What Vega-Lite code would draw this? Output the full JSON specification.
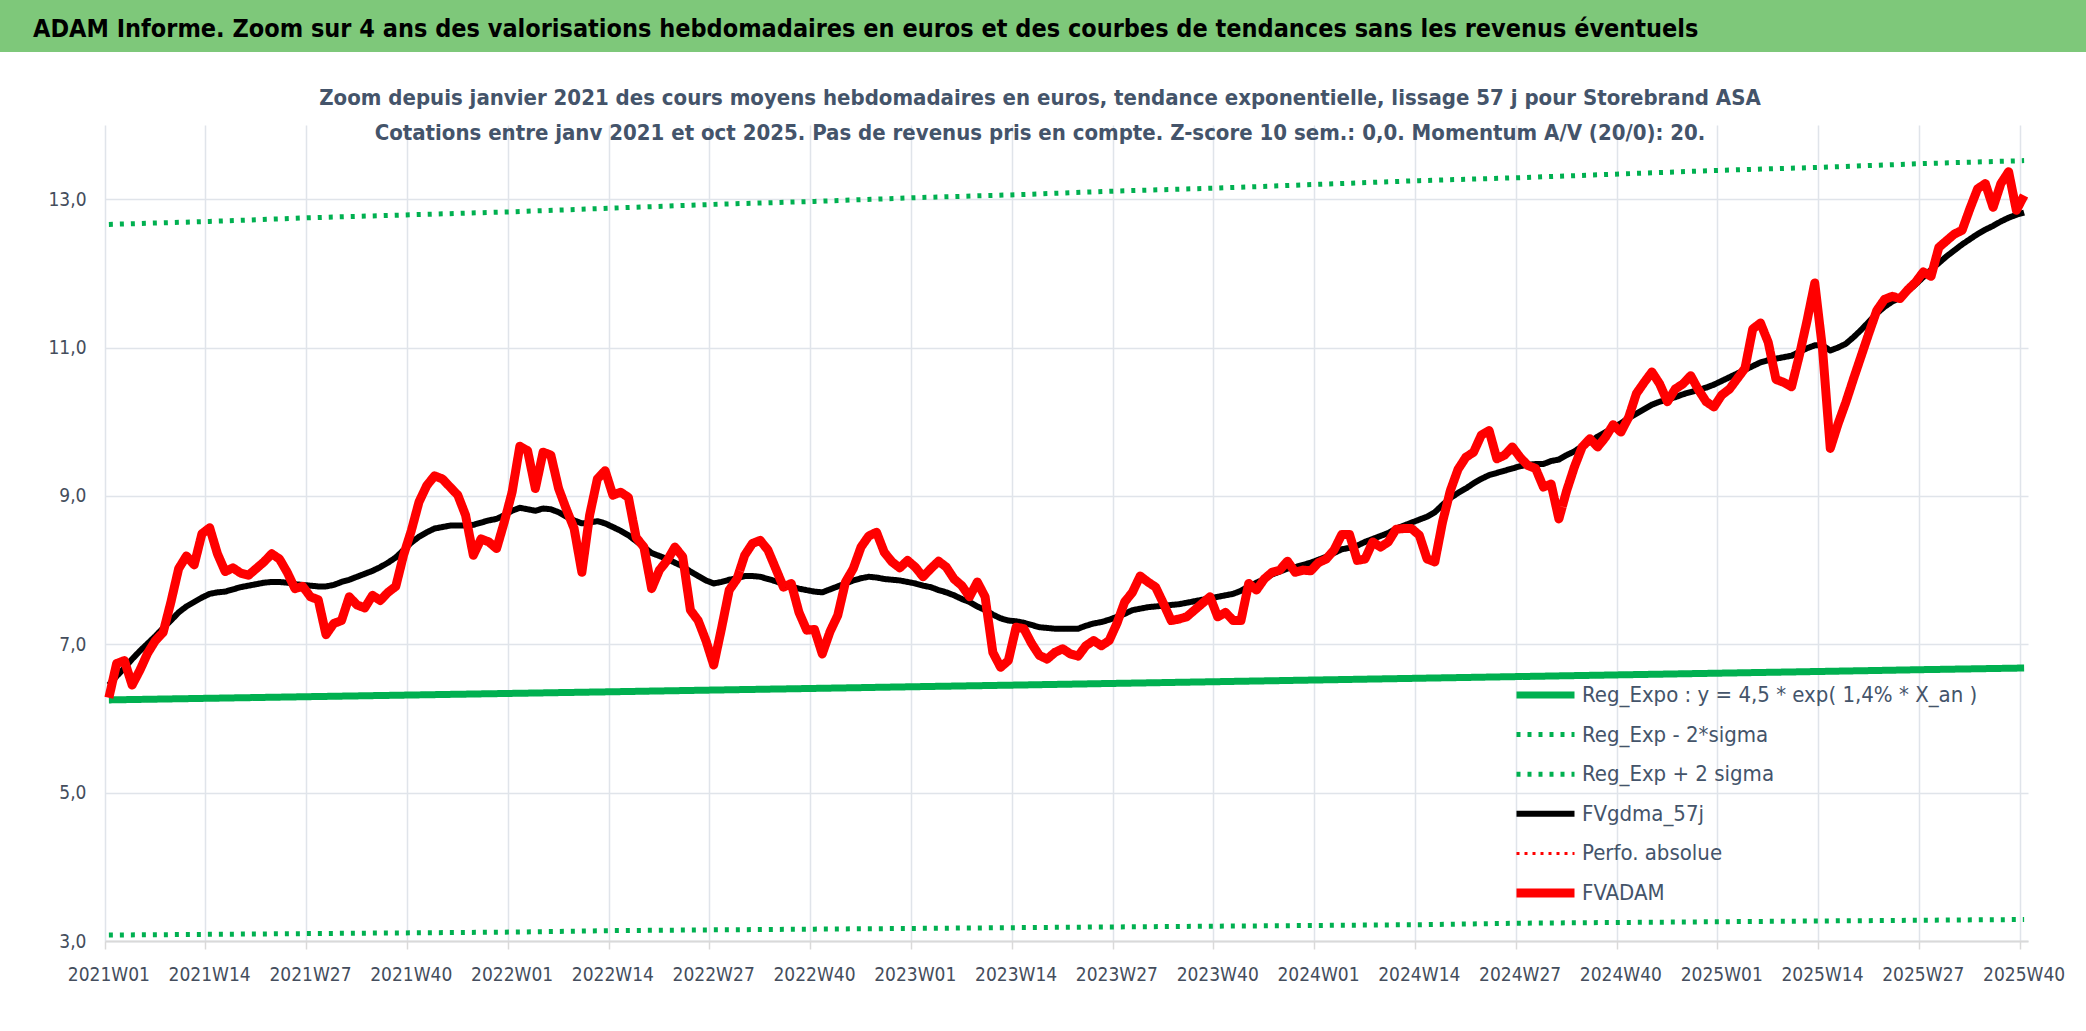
{
  "$schema": "https://vega.github.io/schema/vega-lite/v6.json",
  "background": "white",
  "padding": {"left": 0, "top": 0, "right": 0, "bottom": 47},
  "spacing": 34,
  "columns": 1,
  "config": {
    "font": "Liberation Sans Narrow, DejaVu Sans Condensed, Liberation Sans",
    "view": {"stroke": null}
  },
  "datasets": {
    "weekly": [
      {"w":"2021W01","FVADAM":6.28,"FVgdma_57j":6.45},{"w":"2021W02","FVADAM":6.74,"FVgdma_57j":6.57},{"w":"2021W03","FVADAM":6.78,"FVgdma_57j":6.68},{"w":"2021W04","FVADAM":6.45,"FVgdma_57j":6.80},
      {"w":"2021W05","FVADAM":6.65,"FVgdma_57j":6.91},{"w":"2021W06","FVADAM":6.88,"FVgdma_57j":7.01},{"w":"2021W07","FVADAM":7.05,"FVgdma_57j":7.11},{"w":"2021W08","FVADAM":7.16,"FVgdma_57j":7.22},
      {"w":"2021W09","FVADAM":7.57,"FVgdma_57j":7.32},{"w":"2021W10","FVADAM":8.02,"FVgdma_57j":7.43},{"w":"2021W11","FVADAM":8.19,"FVgdma_57j":7.51},{"w":"2021W12","FVADAM":8.07,"FVgdma_57j":7.57},
      {"w":"2021W13","FVADAM":8.49,"FVgdma_57j":7.63},{"w":"2021W14","FVADAM":8.57,"FVgdma_57j":7.68},{"w":"2021W15","FVADAM":8.22,"FVgdma_57j":7.70},{"w":"2021W16","FVADAM":7.98,"FVgdma_57j":7.71},
      {"w":"2021W17","FVADAM":8.03,"FVgdma_57j":7.74},{"w":"2021W18","FVADAM":7.96,"FVgdma_57j":7.77},{"w":"2021W19","FVADAM":7.93,"FVgdma_57j":7.79},{"w":"2021W20","FVADAM":8.02,"FVgdma_57j":7.81},
      {"w":"2021W21","FVADAM":8.11,"FVgdma_57j":7.83},{"w":"2021W22","FVADAM":8.22,"FVgdma_57j":7.84},{"w":"2021W23","FVADAM":8.15,"FVgdma_57j":7.84},{"w":"2021W24","FVADAM":7.97,"FVgdma_57j":7.83},
      {"w":"2021W25","FVADAM":7.75,"FVgdma_57j":7.81},{"w":"2021W26","FVADAM":7.78,"FVgdma_57j":7.80},{"w":"2021W27","FVADAM":7.64,"FVgdma_57j":7.79},{"w":"2021W28","FVADAM":7.60,"FVgdma_57j":7.78},
      {"w":"2021W29","FVADAM":7.13,"FVgdma_57j":7.78},{"w":"2021W30","FVADAM":7.28,"FVgdma_57j":7.80},{"w":"2021W31","FVADAM":7.32,"FVgdma_57j":7.84},{"w":"2021W32","FVADAM":7.64,"FVgdma_57j":7.87},
      {"w":"2021W33","FVADAM":7.53,"FVgdma_57j":7.91},{"w":"2021W34","FVADAM":7.49,"FVgdma_57j":7.95},{"w":"2021W35","FVADAM":7.66,"FVgdma_57j":7.99},{"w":"2021W36","FVADAM":7.59,"FVgdma_57j":8.04},
      {"w":"2021W37","FVADAM":7.70,"FVgdma_57j":8.10},{"w":"2021W38","FVADAM":7.78,"FVgdma_57j":8.17},{"w":"2021W39","FVADAM":8.20,"FVgdma_57j":8.27},{"w":"2021W40","FVADAM":8.53,"FVgdma_57j":8.37},
      {"w":"2021W41","FVADAM":8.92,"FVgdma_57j":8.45},{"w":"2021W42","FVADAM":9.14,"FVgdma_57j":8.51},{"w":"2021W43","FVADAM":9.27,"FVgdma_57j":8.56},{"w":"2021W44","FVADAM":9.23,"FVgdma_57j":8.58},
      {"w":"2021W45","FVADAM":9.12,"FVgdma_57j":8.60},{"w":"2021W46","FVADAM":9.01,"FVgdma_57j":8.60},{"w":"2021W47","FVADAM":8.74,"FVgdma_57j":8.60},{"w":"2021W48","FVADAM":8.20,"FVgdma_57j":8.61},
      {"w":"2021W49","FVADAM":8.42,"FVgdma_57j":8.64},{"w":"2021W50","FVADAM":8.38,"FVgdma_57j":8.67},{"w":"2021W51","FVADAM":8.29,"FVgdma_57j":8.69},{"w":"2021W52","FVADAM":8.65,"FVgdma_57j":8.74},
      {"w":"2022W01","FVADAM":9.05,"FVgdma_57j":8.80},{"w":"2022W02","FVADAM":9.67,"FVgdma_57j":8.84},{"w":"2022W03","FVADAM":9.61,"FVgdma_57j":8.82},{"w":"2022W04","FVADAM":9.10,"FVgdma_57j":8.80},
      {"w":"2022W05","FVADAM":9.59,"FVgdma_57j":8.83},{"w":"2022W06","FVADAM":9.55,"FVgdma_57j":8.82},{"w":"2022W07","FVADAM":9.10,"FVgdma_57j":8.78},{"w":"2022W08","FVADAM":8.82,"FVgdma_57j":8.72},
      {"w":"2022W09","FVADAM":8.56,"FVgdma_57j":8.67},{"w":"2022W10","FVADAM":7.97,"FVgdma_57j":8.63},{"w":"2022W11","FVADAM":8.74,"FVgdma_57j":8.64},{"w":"2022W12","FVADAM":9.23,"FVgdma_57j":8.66},
      {"w":"2022W13","FVADAM":9.34,"FVgdma_57j":8.63},{"w":"2022W14","FVADAM":9.01,"FVgdma_57j":8.58},{"w":"2022W15","FVADAM":9.05,"FVgdma_57j":8.53},{"w":"2022W16","FVADAM":8.98,"FVgdma_57j":8.47},
      {"w":"2022W17","FVADAM":8.44,"FVgdma_57j":8.39},{"w":"2022W18","FVADAM":8.31,"FVgdma_57j":8.31},{"w":"2022W19","FVADAM":7.75,"FVgdma_57j":8.23},{"w":"2022W20","FVADAM":8.00,"FVgdma_57j":8.19},
      {"w":"2022W21","FVADAM":8.13,"FVgdma_57j":8.15},{"w":"2022W22","FVADAM":8.31,"FVgdma_57j":8.10},{"w":"2022W23","FVADAM":8.18,"FVgdma_57j":8.05},{"w":"2022W24","FVADAM":7.46,"FVgdma_57j":7.98},
      {"w":"2022W25","FVADAM":7.32,"FVgdma_57j":7.92},{"w":"2022W26","FVADAM":7.05,"FVgdma_57j":7.86},{"w":"2022W27","FVADAM":6.72,"FVgdma_57j":7.82},{"w":"2022W28","FVADAM":7.21,"FVgdma_57j":7.84},
      {"w":"2022W29","FVADAM":7.73,"FVgdma_57j":7.87},{"w":"2022W30","FVADAM":7.88,"FVgdma_57j":7.89},{"w":"2022W31","FVADAM":8.20,"FVgdma_57j":7.92},{"w":"2022W32","FVADAM":8.36,"FVgdma_57j":7.92},
      {"w":"2022W33","FVADAM":8.40,"FVgdma_57j":7.91},{"w":"2022W34","FVADAM":8.27,"FVgdma_57j":7.88},{"w":"2022W35","FVADAM":8.02,"FVgdma_57j":7.85},{"w":"2022W36","FVADAM":7.77,"FVgdma_57j":7.81},
      {"w":"2022W37","FVADAM":7.82,"FVgdma_57j":7.78},{"w":"2022W38","FVADAM":7.43,"FVgdma_57j":7.75},{"w":"2022W39","FVADAM":7.19,"FVgdma_57j":7.73},{"w":"2022W40","FVADAM":7.20,"FVgdma_57j":7.71},
      {"w":"2022W41","FVADAM":6.87,"FVgdma_57j":7.70},{"w":"2022W42","FVADAM":7.17,"FVgdma_57j":7.74},{"w":"2022W43","FVADAM":7.39,"FVgdma_57j":7.78},{"w":"2022W44","FVADAM":7.84,"FVgdma_57j":7.82},
      {"w":"2022W45","FVADAM":8.02,"FVgdma_57j":7.86},{"w":"2022W46","FVADAM":8.31,"FVgdma_57j":7.89},{"w":"2022W47","FVADAM":8.46,"FVgdma_57j":7.91},{"w":"2022W48","FVADAM":8.51,"FVgdma_57j":7.90},
      {"w":"2022W49","FVADAM":8.24,"FVgdma_57j":7.88},{"w":"2022W50","FVADAM":8.11,"FVgdma_57j":7.87},{"w":"2022W51","FVADAM":8.03,"FVgdma_57j":7.86},{"w":"2022W52","FVADAM":8.13,"FVgdma_57j":7.84},
      {"w":"2023W01","FVADAM":8.04,"FVgdma_57j":7.82},{"w":"2023W02","FVADAM":7.91,"FVgdma_57j":7.79},{"w":"2023W03","FVADAM":8.02,"FVgdma_57j":7.77},{"w":"2023W04","FVADAM":8.12,"FVgdma_57j":7.73},
      {"w":"2023W05","FVADAM":8.04,"FVgdma_57j":7.70},{"w":"2023W06","FVADAM":7.88,"FVgdma_57j":7.66},{"w":"2023W07","FVADAM":7.79,"FVgdma_57j":7.61},{"w":"2023W08","FVADAM":7.64,"FVgdma_57j":7.57},
      {"w":"2023W09","FVADAM":7.84,"FVgdma_57j":7.51},{"w":"2023W10","FVADAM":7.64,"FVgdma_57j":7.46},{"w":"2023W11","FVADAM":6.89,"FVgdma_57j":7.40},{"w":"2023W12","FVADAM":6.69,"FVgdma_57j":7.35},
      {"w":"2023W13","FVADAM":6.78,"FVgdma_57j":7.32},{"w":"2023W14","FVADAM":7.23,"FVgdma_57j":7.31},{"w":"2023W15","FVADAM":7.21,"FVgdma_57j":7.29},{"w":"2023W16","FVADAM":7.01,"FVgdma_57j":7.26},
      {"w":"2023W17","FVADAM":6.85,"FVgdma_57j":7.23},{"w":"2023W18","FVADAM":6.80,"FVgdma_57j":7.22},{"w":"2023W19","FVADAM":6.89,"FVgdma_57j":7.21},{"w":"2023W20","FVADAM":6.94,"FVgdma_57j":7.21},
      {"w":"2023W21","FVADAM":6.87,"FVgdma_57j":7.21},{"w":"2023W22","FVADAM":6.84,"FVgdma_57j":7.21},{"w":"2023W23","FVADAM":6.98,"FVgdma_57j":7.25},{"w":"2023W24","FVADAM":7.05,"FVgdma_57j":7.28},
      {"w":"2023W25","FVADAM":6.98,"FVgdma_57j":7.30},{"w":"2023W26","FVADAM":7.05,"FVgdma_57j":7.33},{"w":"2023W27","FVADAM":7.28,"FVgdma_57j":7.37},{"w":"2023W28","FVADAM":7.57,"FVgdma_57j":7.41},
      {"w":"2023W29","FVADAM":7.70,"FVgdma_57j":7.46},{"w":"2023W30","FVADAM":7.92,"FVgdma_57j":7.48},{"w":"2023W31","FVADAM":7.84,"FVgdma_57j":7.50},{"w":"2023W32","FVADAM":7.77,"FVgdma_57j":7.51},
      {"w":"2023W33","FVADAM":7.55,"FVgdma_57j":7.52},{"w":"2023W34","FVADAM":7.32,"FVgdma_57j":7.53},{"w":"2023W35","FVADAM":7.34,"FVgdma_57j":7.54},{"w":"2023W36","FVADAM":7.37,"FVgdma_57j":7.56},
      {"w":"2023W37","FVADAM":7.46,"FVgdma_57j":7.58},{"w":"2023W38","FVADAM":7.55,"FVgdma_57j":7.60},{"w":"2023W39","FVADAM":7.64,"FVgdma_57j":7.62},{"w":"2023W40","FVADAM":7.37,"FVgdma_57j":7.64},
      {"w":"2023W41","FVADAM":7.43,"FVgdma_57j":7.66},{"w":"2023W42","FVADAM":7.32,"FVgdma_57j":7.68},{"w":"2023W43","FVADAM":7.32,"FVgdma_57j":7.72},{"w":"2023W44","FVADAM":7.82,"FVgdma_57j":7.78},
      {"w":"2023W45","FVADAM":7.73,"FVgdma_57j":7.83},{"w":"2023W46","FVADAM":7.88,"FVgdma_57j":7.88},{"w":"2023W47","FVADAM":7.97,"FVgdma_57j":7.94},{"w":"2023W48","FVADAM":8.00,"FVgdma_57j":7.98},
      {"w":"2023W49","FVADAM":8.12,"FVgdma_57j":8.02},{"w":"2023W50","FVADAM":7.97,"FVgdma_57j":8.04},{"w":"2023W51","FVADAM":8.00,"FVgdma_57j":8.07},{"w":"2023W52","FVADAM":7.99,"FVgdma_57j":8.10},
      {"w":"2024W01","FVADAM":8.10,"FVgdma_57j":8.14},{"w":"2024W02","FVADAM":8.15,"FVgdma_57j":8.18},{"w":"2024W03","FVADAM":8.27,"FVgdma_57j":8.23},{"w":"2024W04","FVADAM":8.48,"FVgdma_57j":8.28},
      {"w":"2024W05","FVADAM":8.48,"FVgdma_57j":8.30},{"w":"2024W06","FVADAM":8.13,"FVgdma_57j":8.33},{"w":"2024W07","FVADAM":8.15,"FVgdma_57j":8.38},{"w":"2024W08","FVADAM":8.38,"FVgdma_57j":8.42},
      {"w":"2024W09","FVADAM":8.31,"FVgdma_57j":8.46},{"w":"2024W10","FVADAM":8.38,"FVgdma_57j":8.50},{"w":"2024W11","FVADAM":8.55,"FVgdma_57j":8.56},{"w":"2024W12","FVADAM":8.56,"FVgdma_57j":8.60},
      {"w":"2024W13","FVADAM":8.56,"FVgdma_57j":8.64},{"w":"2024W14","FVADAM":8.47,"FVgdma_57j":8.68},{"w":"2024W15","FVADAM":8.15,"FVgdma_57j":8.72},{"w":"2024W16","FVADAM":8.11,"FVgdma_57j":8.78},
      {"w":"2024W17","FVADAM":8.65,"FVgdma_57j":8.88},{"w":"2024W18","FVADAM":9.07,"FVgdma_57j":8.97},{"w":"2024W19","FVADAM":9.36,"FVgdma_57j":9.04},{"w":"2024W20","FVADAM":9.52,"FVgdma_57j":9.10},
      {"w":"2024W21","FVADAM":9.59,"FVgdma_57j":9.17},{"w":"2024W22","FVADAM":9.82,"FVgdma_57j":9.23},{"w":"2024W23","FVADAM":9.88,"FVgdma_57j":9.28},{"w":"2024W24","FVADAM":9.50,"FVgdma_57j":9.31},
      {"w":"2024W25","FVADAM":9.55,"FVgdma_57j":9.34},{"w":"2024W26","FVADAM":9.66,"FVgdma_57j":9.37},{"w":"2024W27","FVADAM":9.52,"FVgdma_57j":9.40},{"w":"2024W28","FVADAM":9.41,"FVgdma_57j":9.42},
      {"w":"2024W29","FVADAM":9.37,"FVgdma_57j":9.43},{"w":"2024W30","FVADAM":9.12,"FVgdma_57j":9.43},{"w":"2024W31","FVADAM":9.16,"FVgdma_57j":9.47},{"w":"2024W32","FVADAM":8.69,"FVgdma_57j":9.49},
      {"w":"2024W33","FVADAM":9.07,"FVgdma_57j":9.55},{"w":"2024W34","FVADAM":9.39,"FVgdma_57j":9.60},{"w":"2024W35","FVADAM":9.66,"FVgdma_57j":9.67},{"w":"2024W36","FVADAM":9.77,"FVgdma_57j":9.73},
      {"w":"2024W37","FVADAM":9.66,"FVgdma_57j":9.80},{"w":"2024W38","FVADAM":9.79,"FVgdma_57j":9.86},{"w":"2024W39","FVADAM":9.96,"FVgdma_57j":9.92},{"w":"2024W40","FVADAM":9.86,"FVgdma_57j":9.98},
      {"w":"2024W41","FVADAM":10.06,"FVgdma_57j":10.05},{"w":"2024W42","FVADAM":10.38,"FVgdma_57j":10.11},{"w":"2024W43","FVADAM":10.53,"FVgdma_57j":10.17},{"w":"2024W44","FVADAM":10.67,"FVgdma_57j":10.23},
      {"w":"2024W45","FVADAM":10.51,"FVgdma_57j":10.27},{"w":"2024W46","FVADAM":10.27,"FVgdma_57j":10.30},{"w":"2024W47","FVADAM":10.44,"FVgdma_57j":10.33},{"w":"2024W48","FVADAM":10.51,"FVgdma_57j":10.37},
      {"w":"2024W49","FVADAM":10.62,"FVgdma_57j":10.40},{"w":"2024W50","FVADAM":10.43,"FVgdma_57j":10.43},{"w":"2024W51","FVADAM":10.27,"FVgdma_57j":10.46},{"w":"2024W52","FVADAM":10.20,"FVgdma_57j":10.50},
      {"w":"2025W01","FVADAM":10.36,"FVgdma_57j":10.55},{"w":"2025W02","FVADAM":10.44,"FVgdma_57j":10.60},{"w":"2025W03","FVADAM":10.58,"FVgdma_57j":10.65},{"w":"2025W04","FVADAM":10.72,"FVgdma_57j":10.70},
      {"w":"2025W05","FVADAM":11.25,"FVgdma_57j":10.75},{"w":"2025W06","FVADAM":11.33,"FVgdma_57j":10.80},{"w":"2025W07","FVADAM":11.07,"FVgdma_57j":10.83},{"w":"2025W08","FVADAM":10.57,"FVgdma_57j":10.85},
      {"w":"2025W09","FVADAM":10.53,"FVgdma_57j":10.87},{"w":"2025W10","FVADAM":10.47,"FVgdma_57j":10.89},{"w":"2025W11","FVADAM":10.89,"FVgdma_57j":10.94},{"w":"2025W12","FVADAM":11.36,"FVgdma_57j":10.99},
      {"w":"2025W13","FVADAM":11.87,"FVgdma_57j":11.03},{"w":"2025W14","FVADAM":10.98,"FVgdma_57j":11.03},{"w":"2025W15","FVADAM":9.64,"FVgdma_57j":10.96},{"w":"2025W16","FVADAM":9.97,"FVgdma_57j":11.00},
      {"w":"2025W17","FVADAM":10.26,"FVgdma_57j":11.05},{"w":"2025W18","FVADAM":10.58,"FVgdma_57j":11.14},{"w":"2025W19","FVADAM":10.89,"FVgdma_57j":11.24},{"w":"2025W20","FVADAM":11.20,"FVgdma_57j":11.35},
      {"w":"2025W21","FVADAM":11.50,"FVgdma_57j":11.46},{"w":"2025W22","FVADAM":11.65,"FVgdma_57j":11.55},{"w":"2025W23","FVADAM":11.69,"FVgdma_57j":11.62},{"w":"2025W24","FVADAM":11.66,"FVgdma_57j":11.67},
      {"w":"2025W25","FVADAM":11.78,"FVgdma_57j":11.76},{"w":"2025W26","FVADAM":11.88,"FVgdma_57j":11.85},{"w":"2025W27","FVADAM":12.02,"FVgdma_57j":11.95},{"w":"2025W28","FVADAM":11.96,"FVgdma_57j":12.05},
      {"w":"2025W29","FVADAM":12.35,"FVgdma_57j":12.14},{"w":"2025W30","FVADAM":12.44,"FVgdma_57j":12.23},{"w":"2025W31","FVADAM":12.53,"FVgdma_57j":12.31},{"w":"2025W32","FVADAM":12.58,"FVgdma_57j":12.39},
      {"w":"2025W33","FVADAM":12.87,"FVgdma_57j":12.46},{"w":"2025W34","FVADAM":13.14,"FVgdma_57j":12.53},{"w":"2025W35","FVADAM":13.21,"FVgdma_57j":12.59},{"w":"2025W36","FVADAM":12.89,"FVgdma_57j":12.64},
      {"w":"2025W37","FVADAM":13.21,"FVgdma_57j":12.70},{"w":"2025W38","FVADAM":13.37,"FVgdma_57j":12.75},{"w":"2025W39","FVADAM":12.85,"FVgdma_57j":12.79},{"w":"2025W40","FVADAM":13.05,"FVgdma_57j":12.82}
    ],
    "reg": [
      {"w":"2021W01","series":"Reg_Expo : y = 4,5 * exp( 1,4% *  X_an )","v":6.25},{"w":"2021W14","series":"Reg_Expo : y = 4,5 * exp( 1,4% *  X_an )","v":6.272},
      {"w":"2021W27","series":"Reg_Expo : y = 4,5 * exp( 1,4% *  X_an )","v":6.294},{"w":"2021W40","series":"Reg_Expo : y = 4,5 * exp( 1,4% *  X_an )","v":6.316},
      {"w":"2022W01","series":"Reg_Expo : y = 4,5 * exp( 1,4% *  X_an )","v":6.338},{"w":"2022W14","series":"Reg_Expo : y = 4,5 * exp( 1,4% *  X_an )","v":6.36},
      {"w":"2022W27","series":"Reg_Expo : y = 4,5 * exp( 1,4% *  X_an )","v":6.383},{"w":"2022W40","series":"Reg_Expo : y = 4,5 * exp( 1,4% *  X_an )","v":6.405},
      {"w":"2023W01","series":"Reg_Expo : y = 4,5 * exp( 1,4% *  X_an )","v":6.428},{"w":"2023W14","series":"Reg_Expo : y = 4,5 * exp( 1,4% *  X_an )","v":6.45},
      {"w":"2023W27","series":"Reg_Expo : y = 4,5 * exp( 1,4% *  X_an )","v":6.473},{"w":"2023W40","series":"Reg_Expo : y = 4,5 * exp( 1,4% *  X_an )","v":6.496},
      {"w":"2024W01","series":"Reg_Expo : y = 4,5 * exp( 1,4% *  X_an )","v":6.519},{"w":"2024W14","series":"Reg_Expo : y = 4,5 * exp( 1,4% *  X_an )","v":6.542},
      {"w":"2024W27","series":"Reg_Expo : y = 4,5 * exp( 1,4% *  X_an )","v":6.565},{"w":"2024W40","series":"Reg_Expo : y = 4,5 * exp( 1,4% *  X_an )","v":6.588},
      {"w":"2025W01","series":"Reg_Expo : y = 4,5 * exp( 1,4% *  X_an )","v":6.611},{"w":"2025W14","series":"Reg_Expo : y = 4,5 * exp( 1,4% *  X_an )","v":6.634},
      {"w":"2025W27","series":"Reg_Expo : y = 4,5 * exp( 1,4% *  X_an )","v":6.658},{"w":"2025W40","series":"Reg_Expo : y = 4,5 * exp( 1,4% *  X_an )","v":6.68},
      {"w":"2021W01","series":"Reg_Exp - 2*sigma","v":3.08},{"w":"2021W14","series":"Reg_Exp - 2*sigma","v":3.09},{"w":"2021W27","series":"Reg_Exp - 2*sigma","v":3.10},{"w":"2021W40","series":"Reg_Exp - 2*sigma","v":3.11},
      {"w":"2022W01","series":"Reg_Exp - 2*sigma","v":3.12},{"w":"2022W14","series":"Reg_Exp - 2*sigma","v":3.14},{"w":"2022W27","series":"Reg_Exp - 2*sigma","v":3.15},{"w":"2022W40","series":"Reg_Exp - 2*sigma","v":3.16},
      {"w":"2023W01","series":"Reg_Exp - 2*sigma","v":3.17},{"w":"2023W14","series":"Reg_Exp - 2*sigma","v":3.18},{"w":"2023W27","series":"Reg_Exp - 2*sigma","v":3.19},{"w":"2023W40","series":"Reg_Exp - 2*sigma","v":3.20},
      {"w":"2024W01","series":"Reg_Exp - 2*sigma","v":3.21},{"w":"2024W14","series":"Reg_Exp - 2*sigma","v":3.22},{"w":"2024W27","series":"Reg_Exp - 2*sigma","v":3.24},{"w":"2024W40","series":"Reg_Exp - 2*sigma","v":3.25},
      {"w":"2025W01","series":"Reg_Exp - 2*sigma","v":3.26},{"w":"2025W14","series":"Reg_Exp - 2*sigma","v":3.27},{"w":"2025W27","series":"Reg_Exp - 2*sigma","v":3.28},{"w":"2025W40","series":"Reg_Exp - 2*sigma","v":3.29},
      {"w":"2021W01","series":"Reg_Exp + 2 sigma","v":12.66},{"w":"2021W14","series":"Reg_Exp + 2 sigma","v":12.70},{"w":"2021W27","series":"Reg_Exp + 2 sigma","v":12.75},{"w":"2021W40","series":"Reg_Exp + 2 sigma","v":12.79},
      {"w":"2022W01","series":"Reg_Exp + 2 sigma","v":12.83},{"w":"2022W14","series":"Reg_Exp + 2 sigma","v":12.88},{"w":"2022W27","series":"Reg_Exp + 2 sigma","v":12.93},{"w":"2022W40","series":"Reg_Exp + 2 sigma","v":12.97},
      {"w":"2023W01","series":"Reg_Exp + 2 sigma","v":13.02},{"w":"2023W14","series":"Reg_Exp + 2 sigma","v":13.06},{"w":"2023W27","series":"Reg_Exp + 2 sigma","v":13.11},{"w":"2023W40","series":"Reg_Exp + 2 sigma","v":13.15},
      {"w":"2024W01","series":"Reg_Exp + 2 sigma","v":13.20},{"w":"2024W14","series":"Reg_Exp + 2 sigma","v":13.25},{"w":"2024W27","series":"Reg_Exp + 2 sigma","v":13.29},{"w":"2024W40","series":"Reg_Exp + 2 sigma","v":13.34},
      {"w":"2025W01","series":"Reg_Exp + 2 sigma","v":13.39},{"w":"2025W14","series":"Reg_Exp + 2 sigma","v":13.43},{"w":"2025W27","series":"Reg_Exp + 2 sigma","v":13.48},{"w":"2025W40","series":"Reg_Exp + 2 sigma","v":13.52}
    ]
  },
  "concat": [
    {
      "width": 2086,
      "height": 52,
      "view": {"fill": "#7EC87A", "stroke": null},
      "data": {"values": [{"pos": 0, "label": "ADAM Informe. Zoom sur 4 ans des valorisations hebdomadaires en euros et des courbes de tendances sans les revenus éventuels"}]},
      "mark": {"type": "text", "align": "left", "baseline": "middle", "fontSize": 25, "fontWeight": "bold", "color": "#000000", "dx": 33, "dy": 3},
      "encoding": {
        "x": {"field": "pos", "type": "quantitative", "scale": {"domain": [0, 1]}, "axis": null},
        "text": {"field": "label", "type": "nominal"}
      }
    },
    {
      "width": 2028,
      "height": 816,
      "title": {
        "text": ["Zoom depuis janvier 2021 des cours moyens hebdomadaires en euros, tendance exponentielle, lissage 57 j pour Storebrand ASA", "Cotations entre janv 2021 et oct 2025. Pas de revenus pris en compte. Z-score 10 sem.: 0,0. Momentum A/V (20/0): 20."],
        "fontSize": 22,
        "fontWeight": "bold",
        "color": "#44546A",
        "anchor": "middle",
        "frame": "group",
        "baseline": "bottom",
        "lineHeight": 35,
        "offset": 0,
        "dx": 26,
        "dy": 41.5
      },
      "encoding": {
        "x": {
          "field": "w", "type": "ordinal",
          "bandPosition": 0.5,
          "scale": {"type": "band", "paddingInner": 0, "paddingOuter": 0, "range": [105, 2028]},
          "axis": {
            "title": null,
            "values": ["2021W01","2021W14","2021W27","2021W40","2022W01","2022W14","2022W27","2022W40","2023W01","2023W14","2023W27","2023W40","2024W01","2024W14","2024W27","2024W40","2025W01","2025W14","2025W27","2025W40"],
            "bandPosition": 0,
            "labelAngle": 0,
            "labelOverlap": false,
            "labelFontSize": 19,
            "labelColor": "#444D5C",
            "labelPadding": 16,
            "tickColor": "#D9D9D9",
            "tickSize": 8,
            "tickWidth": 1.5,
            "domainColor": "#D9D9D9",
            "domainWidth": 2,
            "grid": true,
            "gridColor": "#E0E4EA",
            "gridWidth": 1.5
          }
        },
        "y": {
          "field": "v", "type": "quantitative",
          "scale": {"domain": [3, 14], "nice": false, "zero": false},
          "axis": {
            "title": null,
            "values": [3, 5, 7, 9, 11, 13],
            "labelExpr": "replace(format(datum.value, '.1f'), '.', ',')",
            "offset": -105,
            "domain": false,
            "ticks": false,
            "grid": true,
            "gridColor": "#E0E4EA",
            "gridWidth": 1.5,
            "labelFontSize": 19,
            "labelColor": "#444D5C",
            "labelPadding": 19,
            "minExtent": 0
          }
        },
        "color": {
          "field": "series", "type": "nominal",
          "scale": {
            "domain": ["Reg_Expo : y = 4,5 * exp( 1,4% *  X_an )", "Reg_Exp - 2*sigma", "Reg_Exp + 2 sigma", "FVgdma_57j", "Perfo. absolue", "FVADAM"],
            "range": ["#00B050", "#00B050", "#00B050", "#000000", "#FF0000", "#FF0000"]
          },
          "legend": {
            "title": null,
            "orient": "none",
            "legendX": 1512,
            "legendY": 682,
            "padding": 0,
            "symbolType": "stroke",
            "symbolSize": 3364,
            "clipHeight": 26,
            "labelFontSize": 22,
            "labelColor": "#44546A",
            "labelOffset": 3,
            "labelLimit": 0,
            "rowPadding": 13.6
          }
        },
        "strokeDash": {
          "field": "series", "type": "nominal",
          "scale": {
            "domain": ["Reg_Expo : y = 4,5 * exp( 1,4% *  X_an )", "Reg_Exp - 2*sigma", "Reg_Exp + 2 sigma", "FVgdma_57j", "Perfo. absolue", "FVADAM"],
            "range": [[1, 0], [4, 7], [4, 7], [1, 0], [3, 5], [1, 0]]
          }
        },
        "strokeWidth": {
          "field": "series", "type": "nominal",
          "scale": {
            "type": "ordinal",
            "domain": ["Reg_Expo : y = 4,5 * exp( 1,4% *  X_an )", "Reg_Exp - 2*sigma", "Reg_Exp + 2 sigma", "FVgdma_57j", "Perfo. absolue", "FVADAM"],
            "range": [7, 5, 5, 6, 3, 9]
          }
        }
      },
      "layer": [
        {"data": {"name": "reg"}, "mark": {"type": "line", "strokeJoin": "round"}},
        {"data": {"name": "weekly"}, "transform": [{"fold": ["FVgdma_57j"], "as": ["series", "v"]}], "mark": {"type": "line", "strokeJoin": "round"}},
        {"data": {"name": "weekly"}, "transform": [{"fold": ["FVADAM"], "as": ["series", "v"]}], "mark": {"type": "line", "strokeJoin": "round"}}
      ]
    }
  ]
}
